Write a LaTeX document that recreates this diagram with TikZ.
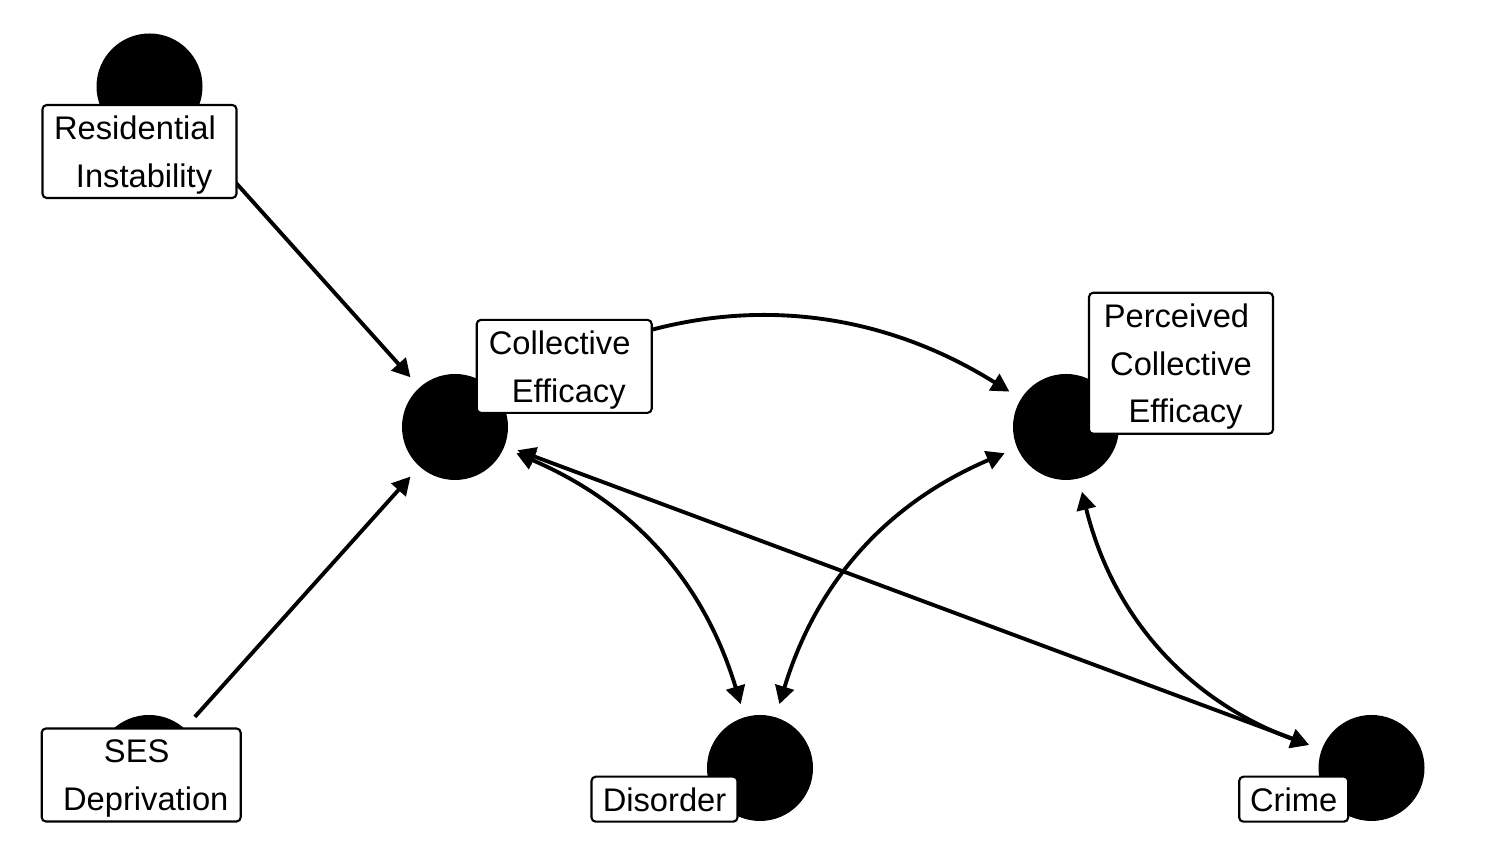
\documentclass[tikz,border=0pt]{standalone}
\usepackage{fontspec}
\setmainfont{Liberation Sans}
\usetikzlibrary{arrows.meta}

\newcommand{\pad}{\hphantom{\ }}

\begin{document}
\begin{tikzpicture}[
	>={Triangle[length = 0.18cm, width = 0.19cm]},
	latent/.style = {circle, fill = black, minimum size = 1.06cm, inner sep = 0pt},
	lbl/.style = {draw, fill = white, rounded corners = 1.2pt, line width = 0.6pt, inner sep = 0pt, align = center, text depth = 0pt, font = \fontsize{9.3}{13.6}\selectfont},
	reg/.style = {->, line width = 1.1pt, shorten > = 0.13cm, shorten < = 0.15cm},
	cov/.style = {<->, line width = 1.1pt, shorten > = 0.13cm, shorten < = 0.13cm}
]
	%	canvas
	\useasboundingbox (0, 0) rectangle (15.12, 8.64);
	
	%	latent variables
	\node[latent] (res) at (1.495, 7.775) {};
	\node[latent] (ses) at (1.49, 0.96) {};
	\node[latent] (ce) at (4.55, 4.37) {};
	\node[latent] (pce) at (10.66, 4.37) {};
	\node[latent] (dis) at (7.60, 0.96) {};
	\node[latent] (cri) at (13.715, 0.96) {};
	
	%	paths
	\draw[reg] (res) -- (ce);
	\draw[reg] (ses) -- (ce);
	\draw[reg] (ce) to[bend left = 32] (pce);
	\draw[cov] (ce) to[bend left = 25] (dis);
	\draw[cov] (dis) to[bend left = 25] (pce);
	\draw[cov] (ce) -- (cri);
	\draw[cov] (pce) to[bend right = 28] (cri);
	
	%	labels
	\node[lbl, minimum width = 1.94cm, minimum height = 0.93cm] (reslab) at (1.395, 7.125) {Residential\pad\\\pad Instability};
	\node[lbl, minimum width = 1.99cm, minimum height = 0.93cm] (seslab) at (1.412, 0.89) {SES\pad\\\pad Deprivation};
	\node[lbl, minimum width = 1.75cm, minimum height = 0.93cm] (celab) at (5.642, 4.976) {Collective\pad\\\pad Efficacy};
	\node[lbl, minimum width = 1.84cm, minimum height = 1.41cm] (pcelab) at (11.81, 5.007) {Perceived\pad\\\pad Collective\pad\\\pad Efficacy};
	\node[lbl, minimum width = 1.46cm, minimum height = 0.45cm] (dislab) at (6.645, 0.648) {Disorder};
	\node[lbl, minimum width = 1.09cm, minimum height = 0.45cm] (crilab) at (12.937, 0.648) {Crime};
\end{tikzpicture}
\end{document}
